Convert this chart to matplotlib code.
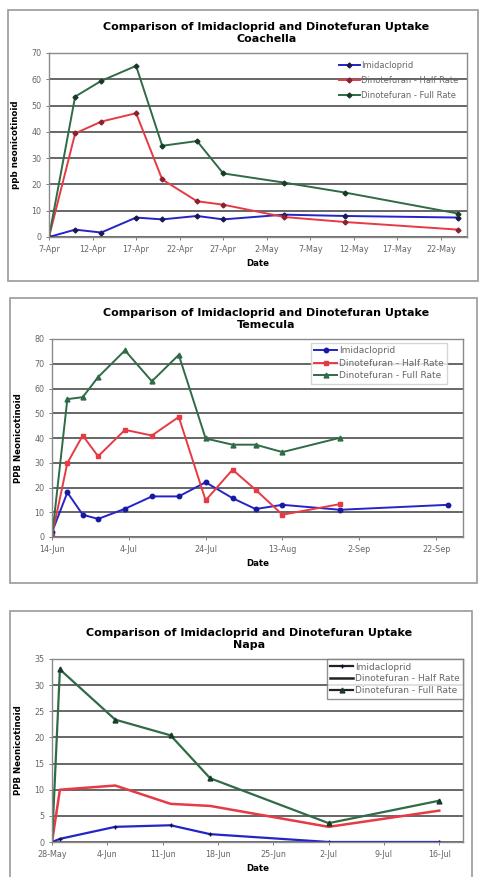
import datetime as dt
import matplotlib
matplotlib.use('Agg')
import matplotlib.pyplot as plt
import matplotlib.dates as mdates
from matplotlib.patches import Rectangle

# ---- data ----
def d(m, day):
    return dt.date(2008, m, day)

# Coachella
coa_dates = [d(4, 7), d(4, 10), d(4, 13), d(4, 17), d(4, 20), d(4, 24), d(4, 27), d(5, 4), d(5, 11), d(5, 24)]
coa_imid = [0, 2.8, 1.7, 7.4, 6.7, 8.0, 6.7, 8.5, 8.0, 7.4]
coa_half = [0, 39.4, 43.9, 47.1, 21.9, 13.6, 12.3, 7.6, 5.7, 2.8]
coa_full = [0, 53.4, 59.4, 65.1, 34.7, 36.5, 24.2, 20.7, 16.9, 8.9]

# Temecula
tem_dates = [d(6, 14), d(6, 18), d(6, 22), d(6, 26), d(7, 3), d(7, 10), d(7, 17), d(7, 24), d(7, 31), d(8, 6), d(8, 13), d(8, 28)]
tem_imid = [1.9, 18.0, 9.0, 7.3, 11.4, 16.4, 16.4, 22.1, 15.7, 11.3, 13.0, 11.0]
tem_imid_last = (d(9, 25), 13.0)
tem_half = [0.5, 29.9, 41.0, 32.6, 43.3, 41.0, 48.5, 14.8, 27.2, 19.1, 9.0, 13.3]
tem_full = [0, 55.7, 56.5, 64.6, 75.4, 62.9, 73.6, 39.8, 37.3, 37.3, 34.3, 40.1]

# Napa
nap_dates = [d(5, 28), d(5, 29), d(6, 5), d(6, 12), d(6, 17), d(7, 2), d(7, 16)]
nap_imid = [0, 0.6, 2.9, 3.2, 1.5, 0, 0]
nap_half = [0, 10.0, 10.8, 7.3, 6.9, 2.9, 6.0]
nap_full = [0, 33.0, 23.4, 20.4, 12.2, 3.6, 7.9]

labels = ['Imidacloprid', 'Dinotefuran - Half Rate', 'Dinotefuran - Full Rate']
title = 'Comparison of Imidacloprid and Dinotefuran Uptake'

BLUE = '#2424c8'
RED = '#e63a44'
GREEN = '#2f6b45'
GRID = '#5a5a5a'

W, H = 480, 877
fig = plt.figure(figsize=(W / 100, H / 100), dpi=100)
plt.rcParams['font.family'] = 'DejaVu Sans'


def px_axes(left, top, right, bottom):
    return fig.add_axes([left / W, 1 - bottom / H, (right - left) / W, (bottom - top) / H])


def frame(left, top, right, bottom):
    fig.patches.append(Rectangle((left / W, 1 - bottom / H), (right - left) / W, (bottom - top) / H,
                                 transform=fig.transFigure, fill=False, ec='#9a9a9a', lw=1.2))


def date_fmt(x, pos):
    t = mdates.num2date(x)
    return f"{t.day}-{t.strftime('%b')}"


def style(ax, ylim, ystep, xticks, xlim, ylabel):
    ax.set_ylim(*ylim)
    ax.set_yticks(range(ylim[0], ylim[1] + 1, ystep))
    ax.set_xlim(*xlim)
    ax.set_xticks(xticks)
    ax.xaxis.set_major_formatter(plt.FuncFormatter(date_fmt))
    ax.grid(axis='y', color=GRID, lw=1.3)
    ax.set_axisbelow(True)
    for s in ax.spines.values():
        s.set_color('#8a8a8a')
        s.set_linewidth(1.0)
    ax.tick_params(labelsize=5.8, colors='#666666', length=2, width=0.6)
    ax.set_ylabel(ylabel, fontsize=6.2, fontweight='bold', labelpad=8)
    ax.set_xlabel('Date', fontsize=6.2, fontweight='bold', labelpad=4)


# ---- Coachella ----
frame(8, 10, 478, 281)
ax1 = px_axes(49, 53, 467, 237)
ax1.plot(coa_dates, coa_imid, color=BLUE, lw=1.4, marker='D', ms=2.5, mfc='#1a1a50', mec='#1a1a50', label=labels[0])
ax1.plot(coa_dates, coa_half, color=RED, lw=1.4, marker='D', ms=2.5, mfc='#8a2030', mec='#8a2030', label=labels[1])
ax1.plot(coa_dates, coa_full, color=GREEN, lw=1.4, marker='D', ms=2.5, mfc='#1a3a28', mec='#1a3a28', label=labels[2])
style(ax1, (0, 70), 10, [d(4, 7) + dt.timedelta(days=5 * i) for i in range(10)], (d(4, 7), d(5, 25)), 'ppb neonicotinoid')
ax1.set_title(title + '\nCoachella', fontsize=8, fontweight='bold', pad=8, x=0.52)
ax1.legend(loc='upper right', fontsize=6.0, frameon=False, handlelength=2.5, handletextpad=0.2,
           borderaxespad=0.6, labelspacing=0.7, labelcolor='#666666')

# ---- Temecula ----
frame(10, 298, 477, 583)
ax2 = px_axes(52, 339, 463, 537)
ax2.plot(tem_dates + [tem_imid_last[0]], tem_imid + [tem_imid_last[1]], color=BLUE, lw=1.4, marker='o', ms=3.2, mfc='#1818a0', mec='#1818a0', label=labels[0])
ax2.plot(tem_dates, tem_half, color=RED, lw=1.4, marker='s', ms=3.5, mfc=RED, mec=RED, label=labels[1])
ax2.plot(tem_dates, tem_full, color=GREEN, lw=1.4, marker='^', ms=3.5, mfc=GREEN, mec=GREEN, label=labels[2])
style(ax2, (0, 80), 10, [d(6, 14) + dt.timedelta(days=20 * i) for i in range(6)], (d(6, 14), d(9, 29)), 'PPB Neonicotinoid')
ax2.set_title(title + '\nTemecula', fontsize=8, fontweight='bold', pad=8, x=0.52)
ax2.legend(loc='upper right', fontsize=6.5, frameon=True, fancybox=False, edgecolor='#cccccc', handlelength=2.5,
           handletextpad=0.2, borderaxespad=0.4, labelspacing=0.4, labelcolor='#666666', bbox_to_anchor=(0.97, 1.0))

# ---- Napa ----
frame(10, 611, 472, 884)
ax3 = px_axes(52, 659, 463, 842)
ax3.plot(nap_dates, nap_imid, color=BLUE, lw=1.6, marker='+', ms=3.5, mec='#101040', label=labels[0])
ax3.plot(nap_dates, nap_half, color=RED, lw=1.8, label=labels[1])
ax3.plot(nap_dates, nap_full, color=GREEN, lw=1.6, marker='^', ms=3.5, mfc='#1a3a28', mec='#1a3a28', label=labels[2])
style(ax3, (0, 35), 5, [d(5, 28) + dt.timedelta(days=7 * i) for i in range(8)], (d(5, 28), d(7, 19)), 'PPB Neonicotinoid')
ax3.set_title(title + '\nNapa', fontsize=8, fontweight='bold', pad=8, x=0.48)
leg3 = ax3.legend(loc='upper right', fontsize=6.5, frameon=True, fancybox=False, edgecolor='#777777', handlelength=2.5,
                  handletextpad=0.2, borderaxespad=0.0, labelspacing=0.3, labelcolor='#666666')
for h in leg3.get_lines():
    h.set_color('#222222')

fig.savefig('out.png', dpi=100)
